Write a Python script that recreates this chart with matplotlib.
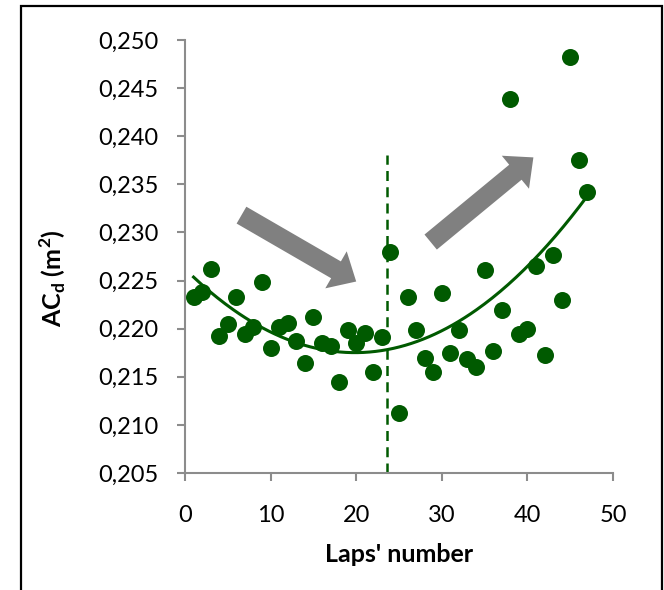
import numpy as np
import matplotlib
matplotlib.use("Agg")
import matplotlib.pyplot as plt
from matplotlib.patches import FancyArrowPatch, Rectangle
from matplotlib.ticker import FuncFormatter

plt.rcParams['font.family'] = ['Lato', 'DejaVu Sans']
plt.rcParams['mathtext.fontset'] = 'custom'
plt.rcParams['mathtext.rm'] = 'Lato:bold'

# lap number and drag area
laps = np.arange(1, 48)
acd = [0.2233, 0.2238, 0.2262, 0.2192, 0.2205, 0.2233, 0.2194, 0.2202, 0.2249, 0.2180,
       0.2202, 0.2206, 0.2187, 0.2164, 0.2212, 0.2185, 0.2182, 0.2145, 0.2199, 0.2185,
       0.2195, 0.2155, 0.2191, 0.2280, 0.2112, 0.2233, 0.2199, 0.2170, 0.2155, 0.2237,
       0.2175, 0.2199, 0.2168, 0.2160, 0.2261, 0.2177, 0.2219, 0.2439, 0.2194, 0.2200,
       0.2265, 0.2173, 0.2277, 0.2230, 0.2482, 0.2375, 0.2342]
split_lap = 23.6
split_top = 0.238
# trend arrows: (tail, tip) in data units
arrows = [((6.6, 0.2318), (20.0, 0.2249)),
          ((28.7, 0.2290), (40.7, 0.2378))]

green = '#005a00'
grey_axis = '#8c8c8c'

fig = plt.figure(figsize=(6.64, 5.9), dpi=100)
ax = fig.add_axes([0.2786, 0.1983, 0.6446, 0.7339])

ax.scatter(laps, acd, s=150, color=green, zorder=3, linewidths=0)

# 2nd order polynomial trendline
coef = np.polyfit(laps, acd, 2)
xs = np.linspace(laps[0], laps[-1], 200)
ax.plot(xs, np.polyval(coef, xs), color=green, lw=2.2, zorder=2)

ax.plot([split_lap, split_lap], [0.205, split_top], color=green, lw=1.8,
        ls=(0, (4, 2.5)), zorder=2)

for (x0, y0), (x1, y1) in arrows:
    ax.add_patch(FancyArrowPatch((x0, y0), (x1, y1),
                                 arrowstyle='simple,head_length=1.2,head_width=2.2,tail_width=1.0',
                                 mutation_scale=14, color='#808080', lw=0,
                                 shrinkA=0, shrinkB=0, zorder=4))

ax.set_xlim(0, 50)
ax.set_ylim(0.205, 0.250)
ax.set_xticks(range(0, 51, 10))
ax.set_yticks(np.arange(0.205, 0.2501, 0.005))
ax.yaxis.set_major_formatter(FuncFormatter(lambda v, p: ('%.3f' % v).replace('.', ',')))

for s in ['top', 'right']:
    ax.spines[s].set_visible(False)
for s in ['left', 'bottom']:
    ax.spines[s].set_color(grey_axis)
    ax.spines[s].set_linewidth(1.5)
ax.tick_params(direction='out', length=6, width=1.5, color=grey_axis, labelsize=17)
ax.tick_params(axis='y', pad=13)
ax.tick_params(axis='x', pad=17)

ax.set_xlabel("Laps' number", fontsize=18, fontweight='bold')
ax.set_ylabel(r"AC$_\mathrm{d}$ (m$^\mathrm{2}$)", fontsize=18, fontweight='bold')
ax.xaxis.set_label_coords(0.5, -0.189)
ax.xaxis.label.set_va('center')
ax.yaxis.set_label_coords(-0.31, 0.45)
ax.yaxis.label.set_va('center')

# outer frame
fig.patches.append(Rectangle((21 / 664, -0.02), 641 / 664, 1.02 - 6 / 590,
                             transform=fig.transFigure, fill=False,
                             edgecolor='black', lw=1.6))

fig.savefig("out.png", dpi=100)
plt.close()
